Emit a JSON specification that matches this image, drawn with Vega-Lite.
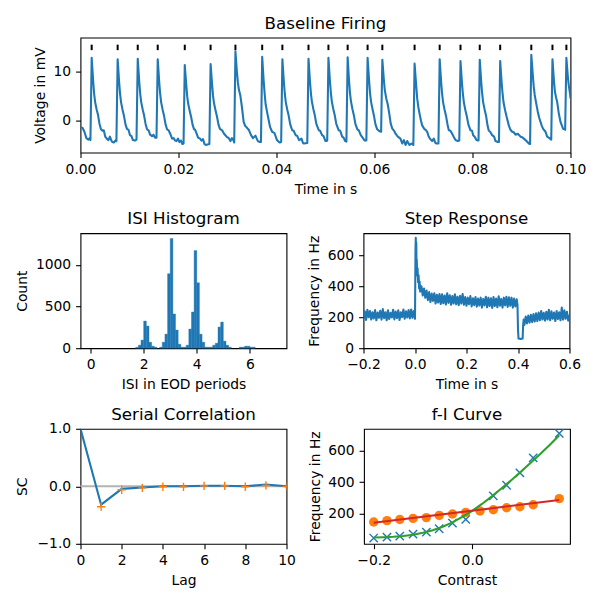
{
  "$schema": "https://vega.github.io/schema/vega-lite/v6.json",
  "background": "white",
  "padding": {"left": 14.5, "top": 14.6, "right": 5, "bottom": 5},
  "spacing": 12.6,
  "config": {
    "font": "DejaVu Sans",
    "view": {"stroke": "black", "strokeWidth": 1.1},
    "axis": {"domain": false, "grid": false, "ticks": true, "tickColor": "black", "tickWidth": 1.1, "tickSize": 4.9, "labelPadding": 4.9, "labelFont": "DejaVu Sans", "labelFontSize": 13.9, "labelColor": "black", "titleFont": "DejaVu Sans", "titleFontSize": 13.9, "titleFontWeight": "normal", "titleColor": "black", "labelOverlap": false, "labelFlush": false},
    "axisX": {"titlePadding": 6},
    "axisY": {"titlePadding": 5.6},
    "title": {"font": "DejaVu Sans", "fontSize": 16.7, "fontWeight": "normal", "color": "black", "frame": "group", "offset": 5.3, "baseline": "alphabetic", "anchor": "middle"}
  },
  "datasets": {
    "trace": [
      {"t":0,"v":-1.2},{"t":0.0004,"v":-1.4},{"t":0.0008,"v":-2.2},{"t":0.0012,"v":-3.5},{"t":0.0016,"v":-3.8},{"t":0.00185,"v":-3.5},{"t":0.00203,"v":-3.9},
      {"t":0.00228,"v":12.9},{"t":0.00258,"v":8.2},{"t":0.00278,"v":5.6},{"t":0.00298,"v":3.9},{"t":0.00328,"v":2.4},{"t":0.00358,"v":1.2},{"t":0.00388,"v":-0.6},{"t":0.00418,"v":-1.7},{"t":0.00448,"v":-2.0},{"t":0.00475,"v":-1.9},{"t":0.00505,"v":-3.2},{"t":0.00535,"v":-3.6},{"t":0.0057,"v":-3.9},{"t":0.006,"v":-3.2},{"t":0.0064,"v":-4.2},{"t":0.0068,"v":-4.4},{"t":0.0072,"v":-3.9},{"t":0.00733,"v":-4.1},
      {"t":0.00758,"v":12.6},{"t":0.00788,"v":8.0},{"t":0.00808,"v":5.5},{"t":0.00828,"v":3.8},{"t":0.00858,"v":2.3},{"t":0.00888,"v":1.0},{"t":0.00918,"v":-0.7},{"t":0.00948,"v":-1.6},{"t":0.0098,"v":-1.8},{"t":0.0101,"v":-2.9},{"t":0.0104,"v":-3.1},{"t":0.0107,"v":-3.9},{"t":0.0111,"v":-4.0},{"t":0.01143,"v":-3.8},
      {"t":0.01168,"v":12.7},{"t":0.01198,"v":8.1},{"t":0.01218,"v":5.6},{"t":0.01238,"v":3.9},{"t":0.01268,"v":2.4},{"t":0.01298,"v":1.1},{"t":0.01328,"v":-0.6},{"t":0.01358,"v":-1.7},{"t":0.0139,"v":-1.9},{"t":0.0142,"v":-2.8},{"t":0.0146,"v":-3.1},{"t":0.0149,"v":-2.8},{"t":0.0152,"v":-3.4},{"t":0.01551,"v":-3.4},
      {"t":0.01576,"v":12.6},{"t":0.01606,"v":8.0},{"t":0.01626,"v":5.5},{"t":0.01646,"v":3.8},{"t":0.01676,"v":2.3},{"t":0.01706,"v":1.0},{"t":0.01736,"v":-0.7},{"t":0.01766,"v":-1.7},{"t":0.018,"v":-1.9},{"t":0.0183,"v":-2.6},{"t":0.0187,"v":-3.6},{"t":0.019,"v":-3.5},{"t":0.0193,"v":-4.0},{"t":0.0196,"v":-4.1},{"t":0.0199,"v":-3.6},{"t":0.0202,"v":-4.3},{"t":0.0205,"v":-4.0},{"t":0.0208,"v":-4.7},{"t":0.02103,"v":-4.6},
      {"t":0.02128,"v":11.4},{"t":0.02158,"v":7.4},{"t":0.02178,"v":5.0},{"t":0.02198,"v":3.5},{"t":0.02228,"v":2.1},{"t":0.02258,"v":0.8},{"t":0.02288,"v":-0.8},{"t":0.02318,"v":-1.7},{"t":0.0234,"v":-1.8},{"t":0.0237,"v":-2.6},{"t":0.024,"v":-3.4},{"t":0.0244,"v":-3.6},{"t":0.0247,"v":-4.0},{"t":0.025,"v":-3.7},{"t":0.0253,"v":-4.7},{"t":0.0256,"v":-4.9},{"t":0.0259,"v":-4.8},{"t":0.0263,"v":-4.7},
      {"t":0.02655,"v":11.6},{"t":0.02685,"v":7.5},{"t":0.02705,"v":5.1},{"t":0.02725,"v":3.6},{"t":0.02755,"v":2.2},{"t":0.02785,"v":0.9},{"t":0.02815,"v":-0.7},{"t":0.02845,"v":-1.6},{"t":0.0289,"v":-1.9},{"t":0.0293,"v":-2.6},{"t":0.0299,"v":-3.3},{"t":0.0302,"v":-3.4},{"t":0.0306,"v":-4.1},{"t":0.0309,"v":-3.5},{"t":0.0312,"v":-3.9},{"t":0.03137,"v":-4.4},
      {"t":0.03162,"v":14.2},{"t":0.03192,"v":10.0},{"t":0.03212,"v":7.8},{"t":0.03232,"v":6.4},{"t":0.03262,"v":5.2},{"t":0.03292,"v":3.0},{"t":0.0333,"v":-0.2},{"t":0.0336,"v":-1.0},{"t":0.0339,"v":-1.3},{"t":0.0344,"v":-1.9},{"t":0.0348,"v":-2.9},{"t":0.0352,"v":-3.5},{"t":0.0357,"v":-3.0},{"t":0.0362,"v":-4.1},{"t":0.0366,"v":-4.3},{"t":0.03683,"v":-4.3},
      {"t":0.03708,"v":13.1},{"t":0.03738,"v":8.2},{"t":0.03758,"v":5.6},{"t":0.03778,"v":3.4},{"t":0.03808,"v":1.8},{"t":0.03838,"v":0.3},{"t":0.03868,"v":-1.2},{"t":0.0391,"v":-2.2},{"t":0.0393,"v":-2.3},{"t":0.0396,"v":-2.5},{"t":0.0401,"v":-3.9},{"t":0.0404,"v":-4.2},{"t":0.0407,"v":-4.4},{"t":0.04095,"v":-4.3},
      {"t":0.0412,"v":12.6},{"t":0.0415,"v":8.0},{"t":0.0417,"v":5.5},{"t":0.0419,"v":3.8},{"t":0.0422,"v":2.3},{"t":0.0425,"v":1.0},{"t":0.0428,"v":-0.7},{"t":0.0432,"v":-1.9},{"t":0.0435,"v":-2.0},{"t":0.0439,"v":-2.9},{"t":0.0442,"v":-3.0},{"t":0.0446,"v":-3.9},{"t":0.0448,"v":-3.8},{"t":0.0451,"v":-3.6},{"t":0.0454,"v":-4.5},{"t":0.0456,"v":-4.6},{"t":0.04628,"v":-4.5},
      {"t":0.04653,"v":12.7},{"t":0.04683,"v":8.1},{"t":0.04703,"v":5.6},{"t":0.04723,"v":3.9},{"t":0.04753,"v":2.4},{"t":0.04783,"v":1.1},{"t":0.04813,"v":-0.6},{"t":0.04864,"v":-1.9},{"t":0.0489,"v":-2.0},{"t":0.0493,"v":-2.9},{"t":0.0496,"v":-3.1},{"t":0.05,"v":-4.1},{"t":0.0502,"v":-4.1},{"t":0.05035,"v":-4.0},
      {"t":0.0506,"v":12.9},{"t":0.0509,"v":8.2},{"t":0.0511,"v":5.7},{"t":0.0513,"v":3.9},{"t":0.0516,"v":2.4},{"t":0.0519,"v":1.1},{"t":0.0522,"v":-0.6},{"t":0.0527,"v":-1.9},{"t":0.053,"v":-2.0},{"t":0.0534,"v":-3.2},{"t":0.0537,"v":-3.4},{"t":0.054,"v":-4.1},{"t":0.05427,"v":-4.2},
      {"t":0.05452,"v":13.0},{"t":0.0548,"v":8.3},{"t":0.055,"v":5.7},{"t":0.0552,"v":4.0},{"t":0.0555,"v":2.4},{"t":0.0558,"v":1.1},{"t":0.0561,"v":-0.6},{"t":0.0565,"v":-1.7},{"t":0.0568,"v":-1.9},{"t":0.0572,"v":-2.9},{"t":0.0575,"v":-3.3},{"t":0.058,"v":-4.0},{"t":0.05834,"v":-4.0},
      {"t":0.05859,"v":12.9},{"t":0.0589,"v":8.2},{"t":0.0591,"v":5.6},{"t":0.0593,"v":3.9},{"t":0.0596,"v":2.4},{"t":0.0599,"v":1.0},{"t":0.0602,"v":-0.7},{"t":0.06055,"v":-1.7},{"t":0.0608,"v":-1.9},{"t":0.0611,"v":-2.1},{"t":0.06135,"v":-2.2},
      {"t":0.0616,"v":12.5},{"t":0.0619,"v":8.5},{"t":0.0621,"v":6.3},{"t":0.0624,"v":4.6},{"t":0.0627,"v":3.4},{"t":0.063,"v":1.6},{"t":0.0633,"v":-0.5},{"t":0.0636,"v":-1.5},{"t":0.064,"v":-2.0},{"t":0.0643,"v":-2.6},{"t":0.0646,"v":-3.0},{"t":0.0649,"v":-3.3},{"t":0.0653,"v":-3.6},{"t":0.06565,"v":-4.6},{"t":0.066,"v":-3.9},{"t":0.06633,"v":-4.9},{"t":0.06667,"v":-4.1},{"t":0.06714,"v":-4.9},{"t":0.06755,"v":-4.6},{"t":0.06793,"v":-4.9},
      {"t":0.06818,"v":11.7},{"t":0.06848,"v":7.6},{"t":0.06871,"v":4.6},{"t":0.06895,"v":2.8},{"t":0.06925,"v":1.2},{"t":0.0695,"v":0.0},{"t":0.06973,"v":-0.9},{"t":0.0702,"v":-1.7},{"t":0.07045,"v":-1.8},{"t":0.07075,"v":-2.2},{"t":0.071,"v":-3.0},{"t":0.0713,"v":-3.6},{"t":0.07177,"v":-4.1},{"t":0.0721,"v":-3.6},{"t":0.07245,"v":-4.5},{"t":0.07265,"v":-4.6},{"t":0.07305,"v":-4.6},
      {"t":0.0733,"v":12.6},{"t":0.0736,"v":8.0},{"t":0.0738,"v":5.5},{"t":0.074,"v":3.8},{"t":0.0743,"v":2.3},{"t":0.0746,"v":1.0},{"t":0.0749,"v":-0.7},{"t":0.07517,"v":-1.9},{"t":0.0755,"v":-2.0},{"t":0.07585,"v":-2.6},{"t":0.0762,"v":-3.3},{"t":0.07653,"v":-3.9},{"t":0.077,"v":-4.1},{"t":0.0773,"v":-4.0},
      {"t":0.07755,"v":12.2},{"t":0.07785,"v":7.8},{"t":0.07805,"v":5.4},{"t":0.07825,"v":3.7},{"t":0.07855,"v":2.2},{"t":0.07885,"v":0.9},{"t":0.07915,"v":-0.7},{"t":0.07959,"v":-1.9},{"t":0.0799,"v":-2.0},{"t":0.08014,"v":-2.9},{"t":0.0805,"v":-3.3},{"t":0.08082,"v":-3.9},{"t":0.0811,"v":-4.0},{"t":0.08123,"v":-4.0},
      {"t":0.08148,"v":12.5},{"t":0.08178,"v":8.0},{"t":0.08198,"v":5.5},{"t":0.08218,"v":3.8},{"t":0.08248,"v":2.3},{"t":0.08278,"v":1.0},{"t":0.08308,"v":-1.0},{"t":0.08333,"v":-2.0},{"t":0.0836,"v":-2.2},{"t":0.08401,"v":-2.9},{"t":0.0844,"v":-3.2},{"t":0.0847,"v":-4.1},{"t":0.08517,"v":-4.3},{"t":0.0854,"v":-4.3},
      {"t":0.08565,"v":12.2},{"t":0.08595,"v":7.8},{"t":0.08615,"v":5.4},{"t":0.08635,"v":3.7},{"t":0.08665,"v":2.2},{"t":0.08695,"v":0.9},{"t":0.08741,"v":-0.9},{"t":0.08775,"v":-1.8},{"t":0.08809,"v":-2.2},{"t":0.0884,"v":-2.3},{"t":0.08878,"v":-2.8},{"t":0.08925,"v":-2.6},{"t":0.0898,"v":-3.2},{"t":0.0901,"v":-3.3},{"t":0.09048,"v":-3.6},{"t":0.09102,"v":-4.1},{"t":0.0915,"v":-4.6},{"t":0.09175,"v":-4.7},
      {"t":0.092,"v":13.5},{"t":0.0923,"v":9.5},{"t":0.0925,"v":7.0},{"t":0.0927,"v":5.3},{"t":0.093,"v":3.6},{"t":0.0933,"v":2.0},{"t":0.0936,"v":0.7},{"t":0.09388,"v":-0.2},{"t":0.09415,"v":-1.0},{"t":0.09442,"v":-1.6},{"t":0.0949,"v":-2.2},{"t":0.09524,"v":-3.2},{"t":0.09571,"v":-3.5},{"t":0.09607,"v":-3.8},
      {"t":0.09632,"v":12.6},{"t":0.09662,"v":8.2},{"t":0.09682,"v":6.0},{"t":0.09705,"v":4.8},{"t":0.09728,"v":3.9},{"t":0.0976,"v":1.6},{"t":0.09796,"v":-0.2},{"t":0.0985,"v":-1.6},{"t":0.09878,"v":-1.7},{"t":0.09891,"v":-1.8},
      {"t":0.09916,"v":12.9},{"t":0.09946,"v":9.0},{"t":0.09966,"v":7.2},{"t":0.0999,"v":5.6},{"t":0.1,"v":4.6}
    ],
    "spikes": [
      {"ts":0.00228},{"ts":0.00758},{"ts":0.01168},{"ts":0.01576},{"ts":0.02128},{"ts":0.02655},{"ts":0.03162},{"ts":0.03708},{"ts":0.0412},{"ts":0.04653},{"ts":0.0506},{"ts":0.05452},{"ts":0.05859},{"ts":0.0616},{"ts":0.06818},{"ts":0.0733},{"ts":0.07755},{"ts":0.08148},{"ts":0.08565},{"ts":0.092},{"ts":0.09632},{"ts":0.09916}
    ],
    "hist": [
      {"b0":1.7,"b1":1.8,"n":10},{"b0":1.8,"b1":1.9,"n":36},{"b0":1.9,"b1":2.0,"n":97},{"b0":2.0,"b1":2.1,"n":326},{"b0":2.1,"b1":2.2,"n":266},{"b0":2.2,"b1":2.3,"n":72},{"b0":2.3,"b1":2.4,"n":24},{"b0":2.4,"b1":2.5,"n":12},
      {"b0":2.6,"b1":2.7,"n":12},{"b0":2.7,"b1":2.8,"n":72},{"b0":2.8,"b1":2.9,"n":169},{"b0":2.9,"b1":3.0,"n":895},{"b0":3.0,"b1":3.1,"n":1318},{"b0":3.1,"b1":3.2,"n":411},{"b0":3.2,"b1":3.3,"n":218},{"b0":3.3,"b1":3.4,"n":48},{"b0":3.4,"b1":3.5,"n":12},{"b0":3.5,"b1":3.6,"n":12},
      {"b0":3.6,"b1":3.7,"n":36},{"b0":3.7,"b1":3.8,"n":230},{"b0":3.8,"b1":3.9,"n":435},{"b0":3.9,"b1":4.0,"n":1173},{"b0":4.0,"b1":4.1,"n":786},{"b0":4.1,"b1":4.2,"n":169},{"b0":4.2,"b1":4.3,"n":72},{"b0":4.3,"b1":4.4,"n":12},{"b0":4.4,"b1":4.5,"n":12},{"b0":4.5,"b1":4.6,"n":12},
      {"b0":4.6,"b1":4.7,"n":36},{"b0":4.7,"b1":4.8,"n":60},{"b0":4.8,"b1":4.9,"n":254},{"b0":4.9,"b1":5.0,"n":314},{"b0":5.0,"b1":5.1,"n":85},{"b0":5.1,"b1":5.2,"n":36},{"b0":5.2,"b1":5.3,"n":12},
      {"b0":5.6,"b1":5.7,"n":12},{"b0":5.7,"b1":5.8,"n":12},{"b0":5.8,"b1":5.9,"n":24},{"b0":5.9,"b1":6.0,"n":24},{"b0":6.0,"b1":6.1,"n":12},{"b0":6.1,"b1":6.2,"n":12}
    ],
    "step": [
      {"t":-0.2,"f":190},{"t":-0.195,"f":238},{"t":-0.19,"f":182},{"t":-0.185,"f":248},{"t":-0.18,"f":200},{"t":-0.175,"f":240},{"t":-0.17,"f":185},{"t":-0.165,"f":232},{"t":-0.16,"f":192},{"t":-0.155,"f":246},{"t":-0.15,"f":180},{"t":-0.145,"f":230},{"t":-0.14,"f":196},{"t":-0.135,"f":242},{"t":-0.13,"f":184},{"t":-0.125,"f":252},{"t":-0.12,"f":194},{"t":-0.115,"f":232},{"t":-0.11,"f":180},{"t":-0.105,"f":245},{"t":-0.1,"f":188},{"t":-0.095,"f":228},{"t":-0.09,"f":198},{"t":-0.085,"f":248},{"t":-0.08,"f":186},{"t":-0.075,"f":236},{"t":-0.07,"f":194},{"t":-0.065,"f":244},{"t":-0.06,"f":182},{"t":-0.055,"f":232},{"t":-0.05,"f":200},{"t":-0.045,"f":250},{"t":-0.04,"f":190},{"t":-0.035,"f":238},{"t":-0.03,"f":198},{"t":-0.025,"f":246},{"t":-0.02,"f":192},{"t":-0.015,"f":250},{"t":-0.01,"f":196},{"t":-0.005,"f":240},{"t":0.0,"f":190},
      {"t":0.001,"f":420},{"t":0.002,"f":640},{"t":0.003,"f":712},{"t":0.004,"f":600},{"t":0.005,"f":680},{"t":0.006,"f":520},{"t":0.007,"f":570},{"t":0.008,"f":470},{"t":0.01,"f":515},{"t":0.012,"f":425},{"t":0.014,"f":470},{"t":0.016,"f":385},{"t":0.018,"f":430},{"t":0.02,"f":365},{"t":0.025,"f":400},{"t":0.03,"f":340},{"t":0.035,"f":385},{"t":0.04,"f":325},{"t":0.045,"f":372},{"t":0.05,"f":310},{"t":0.055,"f":362},{"t":0.06,"f":298},{"t":0.065,"f":352},{"t":0.07,"f":305},{"t":0.075,"f":355},{"t":0.08,"f":288},{"t":0.085,"f":345},{"t":0.09,"f":295},{"t":0.095,"f":350},{"t":0.1,"f":285},
      {"t":0.105,"f":348},{"t":0.11,"f":290},{"t":0.115,"f":340},{"t":0.12,"f":282},{"t":0.125,"f":355},{"t":0.13,"f":292},{"t":0.135,"f":342},{"t":0.14,"f":280},{"t":0.145,"f":336},{"t":0.15,"f":288},{"t":0.155,"f":348},{"t":0.16,"f":283},{"t":0.165,"f":332},{"t":0.17,"f":278},{"t":0.175,"f":338},{"t":0.18,"f":288},{"t":0.185,"f":350},{"t":0.19,"f":280},{"t":0.195,"f":330},{"t":0.2,"f":274},
      {"t":0.205,"f":326},{"t":0.21,"f":284},{"t":0.215,"f":336},{"t":0.22,"f":270},{"t":0.225,"f":322},{"t":0.23,"f":278},{"t":0.235,"f":330},{"t":0.24,"f":268},{"t":0.245,"f":320},{"t":0.25,"f":275},{"t":0.255,"f":326},{"t":0.26,"f":262},{"t":0.265,"f":318},{"t":0.27,"f":276},{"t":0.275,"f":332},{"t":0.28,"f":264},{"t":0.285,"f":326},{"t":0.29,"f":272},{"t":0.295,"f":322},{"t":0.3,"f":260},
      {"t":0.305,"f":330},{"t":0.31,"f":272},{"t":0.315,"f":320},{"t":0.32,"f":264},{"t":0.325,"f":335},{"t":0.33,"f":274},{"t":0.335,"f":318},{"t":0.34,"f":262},{"t":0.345,"f":326},{"t":0.35,"f":276},{"t":0.355,"f":332},{"t":0.36,"f":266},{"t":0.365,"f":328},{"t":0.37,"f":274},{"t":0.375,"f":326},{"t":0.38,"f":262},{"t":0.385,"f":320},{"t":0.39,"f":270},{"t":0.395,"f":315},{"t":0.398,"f":280},
      {"t":0.4,"f":120},{"t":0.402,"f":62},{"t":0.41,"f":60},{"t":0.418,"f":62},{"t":0.42,"f":150},{"t":0.422,"f":185},{"t":0.425,"f":150},{"t":0.43,"f":205},{"t":0.435,"f":160},{"t":0.44,"f":210},{"t":0.445,"f":165},{"t":0.45,"f":215},{"t":0.455,"f":168},{"t":0.46,"f":220},{"t":0.465,"f":172},{"t":0.47,"f":225},{"t":0.475,"f":175},{"t":0.48,"f":230},{"t":0.485,"f":180},{"t":0.49,"f":240},{"t":0.495,"f":185},{"t":0.5,"f":228},
      {"t":0.505,"f":178},{"t":0.51,"f":235},{"t":0.515,"f":185},{"t":0.52,"f":248},{"t":0.525,"f":180},{"t":0.53,"f":238},{"t":0.535,"f":190},{"t":0.54,"f":230},{"t":0.545,"f":175},{"t":0.55,"f":240},{"t":0.555,"f":188},{"t":0.56,"f":232},{"t":0.565,"f":180},{"t":0.57,"f":262},{"t":0.575,"f":185},{"t":0.58,"f":245},{"t":0.585,"f":190},{"t":0.59,"f":235},{"t":0.595,"f":178},{"t":0.6,"f":215}
    ],
    "sc": [
      {"lag":0,"r":1.0},{"lag":1,"r":-0.32},{"lag":2,"r":-0.045},{"lag":3,"r":-0.02},{"lag":4,"r":0.0},{"lag":5,"r":0.0},{"lag":6,"r":0.01},{"lag":7,"r":0.01},{"lag":8,"r":0.0},{"lag":9,"r":0.03},{"lag":10,"r":0.0}
    ],
    "scm": [
      {"lag":1,"r":-0.355},{"lag":2,"r":-0.06},{"lag":3,"r":-0.028},{"lag":4,"r":-0.008},{"lag":5,"r":-0.01},{"lag":6,"r":0.008},{"lag":7,"r":0.008},{"lag":8,"r":-0.008},{"lag":9,"r":0.015},{"lag":10,"r":-0.005}
    ],
    "onset": [
      {"c":-0.2,"f":45},{"c":-0.173,"f":51},{"c":-0.147,"f":57},{"c":-0.12,"f":70},{"c":-0.093,"f":83},{"c":-0.067,"f":104},{"c":-0.04,"f":140},{"c":-0.013,"f":164},{"c":0.043,"f":313},{"c":0.07,"f":381},{"c":0.097,"f":460},{"c":0.124,"f":555},{"c":0.177,"f":711}
    ],
    "steady": [
      {"c":-0.2,"f":147},{"c":-0.173,"f":156},{"c":-0.147,"f":163},{"c":-0.12,"f":170},{"c":-0.093,"f":175},{"c":-0.067,"f":189},{"c":-0.04,"f":198},{"c":-0.013,"f":208},{"c":0.016,"f":217},{"c":0.043,"f":225},{"c":0.07,"f":238},{"c":0.097,"f":244},{"c":0.124,"f":257},{"c":0.177,"f":296}
    ],
    "fit": [
      {"c":-0.2,"f":48},{"c":-0.18,"f":50},{"c":-0.16,"f":53},{"c":-0.14,"f":58},{"c":-0.12,"f":66},{"c":-0.1,"f":78},{"c":-0.08,"f":94},{"c":-0.06,"f":117},{"c":-0.04,"f":145},{"c":-0.02,"f":180},{"c":0.0,"f":218},{"c":0.02,"f":262},{"c":0.04,"f":310},{"c":0.06,"f":362},{"c":0.08,"f":415},{"c":0.1,"f":470},{"c":0.12,"f":528},{"c":0.14,"f":585},{"c":0.16,"f":645},{"c":0.177,"f":700}
    ],
    "lin": [
      {"c":-0.2,"f":142},{"c":0.177,"f":287}
    ]
  },
  "vconcat": [
    {
      "width": 490, "height": 115,
      "title": {"text": "Baseline Firing"},
      "layer": [
        {
          "data": {"name": "trace"},
          "mark": {"type": "line", "color": "#1f77b4", "strokeWidth": 2.08, "clip": true, "strokeJoin": "round"},
          "encoding": {
            "x": {"field": "t", "type": "quantitative", "scale": {"domain": [0, 0.1], "nice": false, "zero": false}, "axis": {"values": [0, 0.02, 0.04, 0.06, 0.08, 0.1], "format": ".2f", "title": "Time in s"}},
            "y": {"field": "v", "type": "quantitative", "scale": {"domain": [-6.45, 17], "nice": false, "zero": false}, "axis": {"values": [0, 10], "format": "d", "title": "Voltage in mV"}}
          }
        },
        {
          "data": {"name": "spikes"},
          "mark": {"type": "point", "shape": "M0,-1L0,1", "filled": false, "color": "black", "strokeWidth": 2, "size": 30, "opacity": 1},
          "encoding": {
            "x": {"field": "ts", "type": "quantitative", "scale": {"domain": [0, 0.1], "nice": false, "zero": false}},
            "y": {"datum": 15, "type": "quantitative", "scale": {"domain": [-6.45, 17], "nice": false, "zero": false}, "axis": {"orient": "left", "domain": false, "ticks": false, "labels": false, "title": "Voltage in mV", "titleOpacity": 0, "titleX": -51, "titleY": 57.5}}
          }
        }
      ],
      "resolve": {"scale": {"y": "independent"}}
    },
    {
      "spacing": 19,
      "hconcat": [
        {
          "width": 206, "height": 115,
          "title": {"text": "ISI Histogram"},
          "data": {"name": "hist"},
          "mark": {"type": "rect", "color": "#1f77b4", "stroke": "#1f77b4", "strokeWidth": 0.4},
          "encoding": {
            "x": {"field": "b0", "type": "quantitative", "scale": {"domain": [-0.38, 7.38], "nice": false, "zero": false}, "axis": {"values": [0, 2, 4, 6], "format": "d", "title": "ISI in EOD periods"}},
            "x2": {"field": "b1"},
            "y": {"field": "n", "type": "quantitative", "scale": {"domain": [0, 1382], "nice": false}, "axis": {"values": [0, 500, 1000], "format": "d", "title": "Count", "titleX": -51, "titleY": 57.5}},
            "y2": {"datum": 0}
          }
        },
        {
          "width": 206, "height": 115,
          "title": {"text": "Step Response"},
          "data": {"name": "step"},
          "mark": {"type": "line", "color": "#1f77b4", "strokeWidth": 2.08, "clip": true, "strokeJoin": "round"},
          "encoding": {
            "x": {"field": "t", "type": "quantitative", "scale": {"domain": [-0.2, 0.6], "nice": false, "zero": false}, "axis": {"values": [-0.2, 0, 0.2, 0.4, 0.6], "format": ".1f", "title": "Time in s"}},
            "y": {"field": "f", "type": "quantitative", "scale": {"domain": [0, 742], "nice": false}, "axis": {"values": [0, 200, 400, 600], "format": "d", "title": "Frequency in Hz"}}
          }
        }
      ]
    },
    {
      "spacing": 10.5,
      "hconcat": [
        {
          "width": 206, "height": 115,
          "title": {"text": "Serial Correlation", "offset": -1.6},
          "layer": [
            {
              "data": {"values": [{}]},
              "mark": {"type": "rule", "color": "#b3b3b3", "strokeWidth": 2.08},
              "encoding": {
                "y": {"datum": 0, "type": "quantitative", "scale": {"domain": [-1, 1], "nice": false, "zero": false}, "axis": {"values": [-1, -0.5, 0, 0.5, 1], "format": ".1f", "title": "SC", "titleX": -51, "titleY": 57.5}}
              }
            },
            {
              "data": {"name": "sc"},
              "mark": {"type": "line", "color": "#1f77b4", "strokeWidth": 2.08, "clip": true},
              "encoding": {
                "x": {"field": "lag", "type": "quantitative", "scale": {"domain": [0, 10], "nice": false, "zero": false}, "axis": {"values": [0, 2, 4, 6, 8, 10], "format": "d", "title": "Lag"}},
                "y": {"field": "r", "type": "quantitative", "scale": {"domain": [-1, 1], "nice": false, "zero": false}, "axis": {"values": [-1, -0.5, 0, 0.5, 1], "format": ".1f", "title": "SC", "titleX": -51, "titleY": 57.5}}
              }
            },
            {
              "data": {"name": "scm"},
              "mark": {"type": "point", "shape": "M-1,0L1,0M0,-1L0,1", "filled": false, "color": "#ff7f0e", "strokeWidth": 1.4, "size": 69, "opacity": 1, "clip": true},
              "encoding": {
                "x": {"field": "lag", "type": "quantitative"},
                "y": {"field": "r", "type": "quantitative"}
              }
            }
          ]
        },
        {
          "width": 206, "height": 115,
          "title": {"text": "f-I Curve"},
          "layer": [
            {
              "data": {"name": "onset"},
              "mark": {"type": "point", "shape": "M-1,-1L1,1M-1,1L1,-1", "filled": false, "color": "#1f77b4", "strokeWidth": 1.4, "size": 69, "opacity": 1, "clip": true},
              "encoding": {
                "x": {"field": "c", "type": "quantitative", "scale": {"domain": [-0.2197, 0.1988], "nice": false, "zero": false}, "axis": {"values": [-0.2, 0], "format": ".1f", "title": "Contrast"}},
                "y": {"field": "f", "type": "quantitative", "scale": {"domain": [8.3, 740.6], "nice": false, "zero": false}, "axis": {"values": [200, 400, 600], "format": "d", "title": "Frequency in Hz"}}
              }
            },
            {
              "data": {"name": "steady"},
              "mark": {"type": "circle", "color": "#ff7f0e", "size": 88, "opacity": 1, "clip": true},
              "encoding": {
                "x": {"field": "c", "type": "quantitative"},
                "y": {"field": "f", "type": "quantitative"}
              }
            },
            {
              "data": {"name": "fit"},
              "mark": {"type": "line", "color": "#2ca02c", "strokeWidth": 2.08},
              "encoding": {
                "x": {"field": "c", "type": "quantitative"},
                "y": {"field": "f", "type": "quantitative"}
              }
            },
            {
              "data": {"name": "lin"},
              "mark": {"type": "line", "color": "#d62728", "strokeWidth": 2.08},
              "encoding": {
                "x": {"field": "c", "type": "quantitative"},
                "y": {"field": "f", "type": "quantitative"}
              }
            }
          ]
        }
      ]
    }
  ]
}
